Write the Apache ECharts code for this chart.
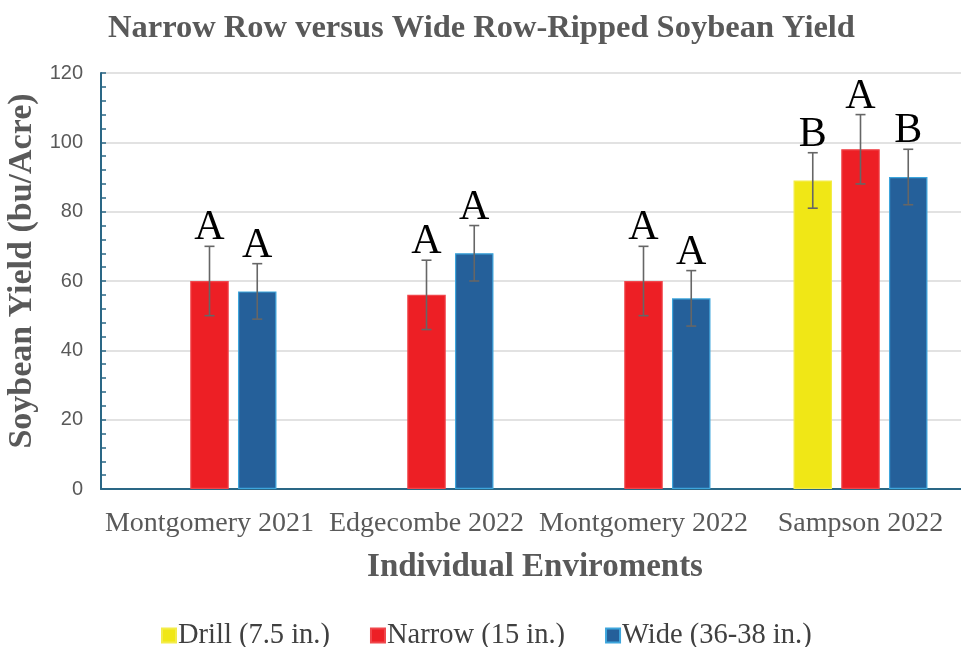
<!DOCTYPE html>
<html>
<head>
<meta charset="utf-8">
<script src="https://cdn.jsdelivr.net/npm/echarts@6/dist/echarts.min.js"></script>
<style>
  html, body { margin: 0; padding: 0; background: #fff; }
  #chart { width: 961px; height: 647px; }
</style>
</head>
<body>
<div id="chart"></div>
<script>
// Environments on the x axis
const categories = ['Montgomery 2021', 'Edgecombe 2022', 'Montgomery 2022', 'Sampson 2022'];

// Mean yields (bu/Acre) per row spacing
const drillYield  = [null, null, null, 89];
const narrowYield = [60, 56, 60, 98];
const wideYield   = [57, 68, 55, 90];

// Error bar half-widths
const drillErr  = [null, null, null, 8];
const narrowErr = [10, 10, 10, 10];
const wideErr   = [8, 8, 8, 8];

// Mean separation letters
const drillLetters  = ['', '', '', 'B'];
const narrowLetters = ['A', 'A', 'A', 'A'];
const wideLetters   = ['A', 'A', 'A', 'B'];

// Y axis ticks
const yMin = 0, yMax = 120, yStep = 20;

const seriesNames = ['Drill (7.5 in.)', 'Narrow (15 in.)', 'Wide (36-38 in.)'];
const colors = ['#f0e716', '#ed1f25', '#25609a'];
const borders = ['#f3ec4a', '#f0464b', '#3da5dc'];

const serif = '"Liberation Serif", "Times New Roman", serif';
const sans = '"Liberation Sans", Arial, sans-serif';

const BAR_W = 38.5;
const BAR_GAP = '24%';

function errorSeries(pos, values, errs, letters) {
  const data = [];
  values.forEach((v, i) => {
    if (v != null) data.push([i, v, errs[i]]);
  });
  return {
    type: 'custom',
    z: 5,
    silent: true,
    encode: { x: 0, y: 1 },
    data: data,
    renderItem: function (params, api) {
      const cat = api.value(0);
      const val = api.value(1);
      const err = api.value(2);
      const letter = letters[cat];
      const layout = api.barLayout({ count: 3, barWidth: BAR_W, barGap: BAR_GAP });
      const dx = layout[pos].offsetCenter;
      const top = api.coord([cat, val + err]);
      const bot = api.coord([cat, val - err]);
      const x = top[0] + dx;
      const cap = 5;
      const lineStyle = { stroke: '#666666', lineWidth: 1.6 };
      return {
        type: 'group',
        children: [
          { type: 'line', shape: { x1: x, y1: top[1], x2: x, y2: bot[1] }, style: lineStyle },
          { type: 'line', shape: { x1: x - cap, y1: top[1], x2: x + cap, y2: top[1] }, style: lineStyle },
          { type: 'line', shape: { x1: x - cap, y1: bot[1], x2: x + cap, y2: bot[1] }, style: lineStyle },
          {
            type: 'text',
            style: {
              text: letter,
              x: x,
              y: top[1] + 3,
              align: 'center',
              verticalAlign: 'bottom',
              font: '42px ' + serif,
              fill: '#000000'
            }
          }
        ]
      };
    }
  };
}

function barSeries(idx, values) {
  return {
    name: seriesNames[idx],
    type: 'bar',
    barWidth: BAR_W,
    barGap: BAR_GAP,
    data: values,
    itemStyle: {
      color: colors[idx],
      borderColor: borders[idx],
      borderWidth: 1.2
    }
  };
}

const chart = echarts.init(document.getElementById('chart'), null, { renderer: 'canvas' });

chart.setOption({
  animation: false,
  backgroundColor: '#ffffff',
  title: {
    text: 'Narrow Row versus Wide Row-Ripped Soybean Yield',
    left: 103,
    top: 7,
    textStyle: {
      fontFamily: serif,
      fontWeight: 'bold',
      fontSize: 32.5,
      color: '#595959'
    }
  },
  legend: {
    data: seriesNames,
    left: 156,
    top: 616,
    icon: 'rect',
    itemWidth: 14,
    itemHeight: 14,
    itemGap: 40,
    textStyle: {
      fontFamily: serif,
      fontSize: 28.5,
      color: '#404040',
      padding: [0, 0, 0, -3]
    }
  },
  grid: {
    left: 101,
    top: 73,
    width: 868,
    height: 416,
    containLabel: false,
    outerBoundsMode: 'none'
  },
  xAxis: {
    type: 'category',
    data: categories,
    name: 'Individual Enviroments',
    nameLocation: 'middle',
    nameGap: 62,
    nameTextStyle: {
      fontFamily: serif,
      fontWeight: 'bold',
      fontSize: 33,
      color: '#595959'
    },
    axisLine: { lineStyle: { color: '#2a6785', width: 2 } },
    axisTick: { show: false },
    axisLabel: {
      interval: 0,
      margin: 21,
      fontFamily: serif,
      fontSize: 28,
      color: '#595959',
      hideOverlap: false
    }
  },
  yAxis: {
    type: 'value',
    min: yMin,
    max: yMax,
    interval: yStep,
    name: 'Soybean Yield (bu/Acre)',
    nameLocation: 'middle',
    nameRotate: 90,
    nameGap: 52,
    nameTextStyle: {
      fontFamily: serif,
      fontWeight: 'bold',
      fontSize: 34,
      color: '#595959',
      padding: [0, 0, 0, 20]
    },
    axisLine: { show: true, lineStyle: { color: '#2a6785', width: 2 } },
    axisTick: { show: true, inside: true, length: 5, lineStyle: { color: '#2a6785', width: 1.5 } },
    minorTick: { show: true, splitNumber: 5, length: 5, lineStyle: { color: '#2a6785', width: 1.5 } },
    splitLine: { show: true, lineStyle: { color: '#d9d9d9', width: 1.5 } },
    axisLabel: {
      margin: 18,
      fontFamily: sans,
      fontSize: 20,
      color: '#595959'
    }
  },
  series: [
    barSeries(0, drillYield),
    barSeries(1, narrowYield),
    barSeries(2, wideYield),
    errorSeries(0, drillYield, drillErr, drillLetters),
    errorSeries(1, narrowYield, narrowErr, narrowLetters),
    errorSeries(2, wideYield, wideErr, wideLetters)
  ]
});
</script>
</body>
</html>
